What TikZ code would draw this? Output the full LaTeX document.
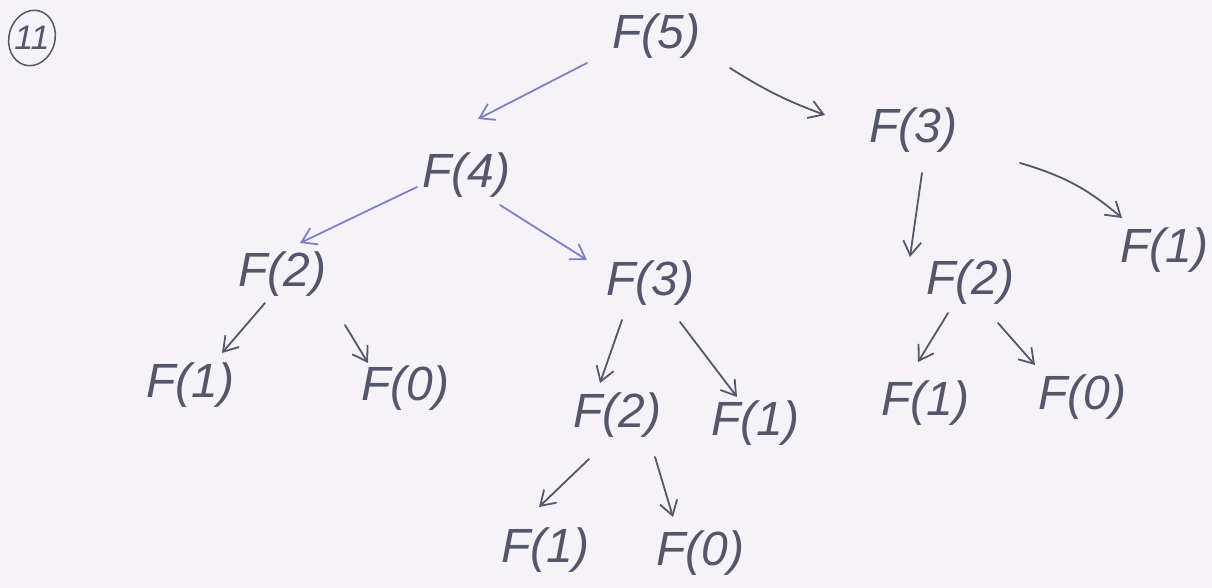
\documentclass[tikz,border=0pt]{standalone}
\usepackage{fontspec}
\setmainfont{Liberation Sans}
\usetikzlibrary{arrows.meta,shapes.geometric}
\definecolor{paper}{HTML}{F5F3F8}
\definecolor{ink}{HTML}{55556B}
\definecolor{blueink}{HTML}{8080C8}
\tikzset{
  lab/.style={text=ink, font=\fontsize{48}{52}\selectfont\itshape, inner sep=0pt},
  edge/.style={draw=ink, line width=1.8pt, -{Straight Barb[length=14pt,width=18pt,line width=1.8pt]}, line cap=round},
  bedge/.style={edge, draw=blueink},
  ring/.style={draw=ink, line width=1.5pt},
}
\begin{document}
\begin{tikzpicture}[x=1pt,y=-1pt]
\fill[paper] (0,0) rectangle (1212,588);
\useasboundingbox (0,0) rectangle (1212,588);
% circled number
\node[lab, font=\fontsize{34}{36}\selectfont\itshape] (num) at (32,38) {11};
\draw[ring, rotate around={-15:(num.center)}] (num.center) ellipse (23pt and 28pt);
% nodes
\node[lab] (f5) at (656,36) {F(5)};
\node[lab] (f4) at (466,175) {F(4)};
\node[lab] (f3a) at (913,130) {F(3)};
\node[lab] (f1a) at (1164,250) {F(1)};
\node[lab] (f2a) at (282,274) {F(2)};
\node[lab] (f3b) at (650,283) {F(3)};
\node[lab] (f2c) at (970,282) {F(2)};
\node[lab] (f1b) at (190,385) {F(1)};
\node[lab] (f0a) at (405,388) {F(0)};
\node[lab] (f2b) at (617,415) {F(2)};
\node[lab] (f1c) at (755,423) {F(1)};
\node[lab] (f1d) at (925,403) {F(1)};
\node[lab] (f0c) at (1082,397) {F(0)};
\node[lab] (f1e) at (545,550) {F(1)};
\node[lab] (f0b) at (700,553) {F(0)};
% connectors
\draw[bedge] ([shift={(-69,27)}]f5.center) -- ([shift={(12,-56)}]f4.center);
\draw[edge] ([shift={(74,32)}]f5.center) to[bend right=6] ([shift={(-88,-15)}]f3a.center);
\draw[bedge] ([shift={(-49,12)}]f4.center) -- ([shift={(18,-31)}]f2a.center);
\draw[bedge] ([shift={(34,30)}]f4.center) -- ([shift={(-63,-23)}]f3b.center);
\draw[edge] ([shift={(9,43)}]f3a.center) -- ([shift={(-60,-25)}]f2c.center);
\draw[edge] ([shift={(107,33)}]f3a.center) to[bend left=12] ([shift={(-42,-32)}]f1a.center);
\draw[edge] ([shift={(-17,29)}]f2a.center) -- ([shift={(32,-32)}]f1b.center);
\draw[edge] ([shift={(63,51)}]f2a.center) -- ([shift={(-37,-25)}]f0a.center);
\draw[edge] ([shift={(-28,37)}]f3b.center) -- ([shift={(-17,-32)}]f2b.center);
\draw[edge] ([shift={(30,39)}]f3b.center) -- ([shift={(-18,-26)}]f1c.center);
\draw[edge] ([shift={(-22,31)}]f2c.center) -- ([shift={(-7,-41)}]f1d.center);
\draw[edge] ([shift={(28,41)}]f2c.center) -- ([shift={(-47,-32)}]f0c.center);
\draw[edge] ([shift={(-28,44)}]f2b.center) -- ([shift={(-6,-43)}]f1e.center);
\draw[edge] ([shift={(38,42)}]f2b.center) -- ([shift={(-27,-36)}]f0b.center);
\end{tikzpicture}
\end{document}
